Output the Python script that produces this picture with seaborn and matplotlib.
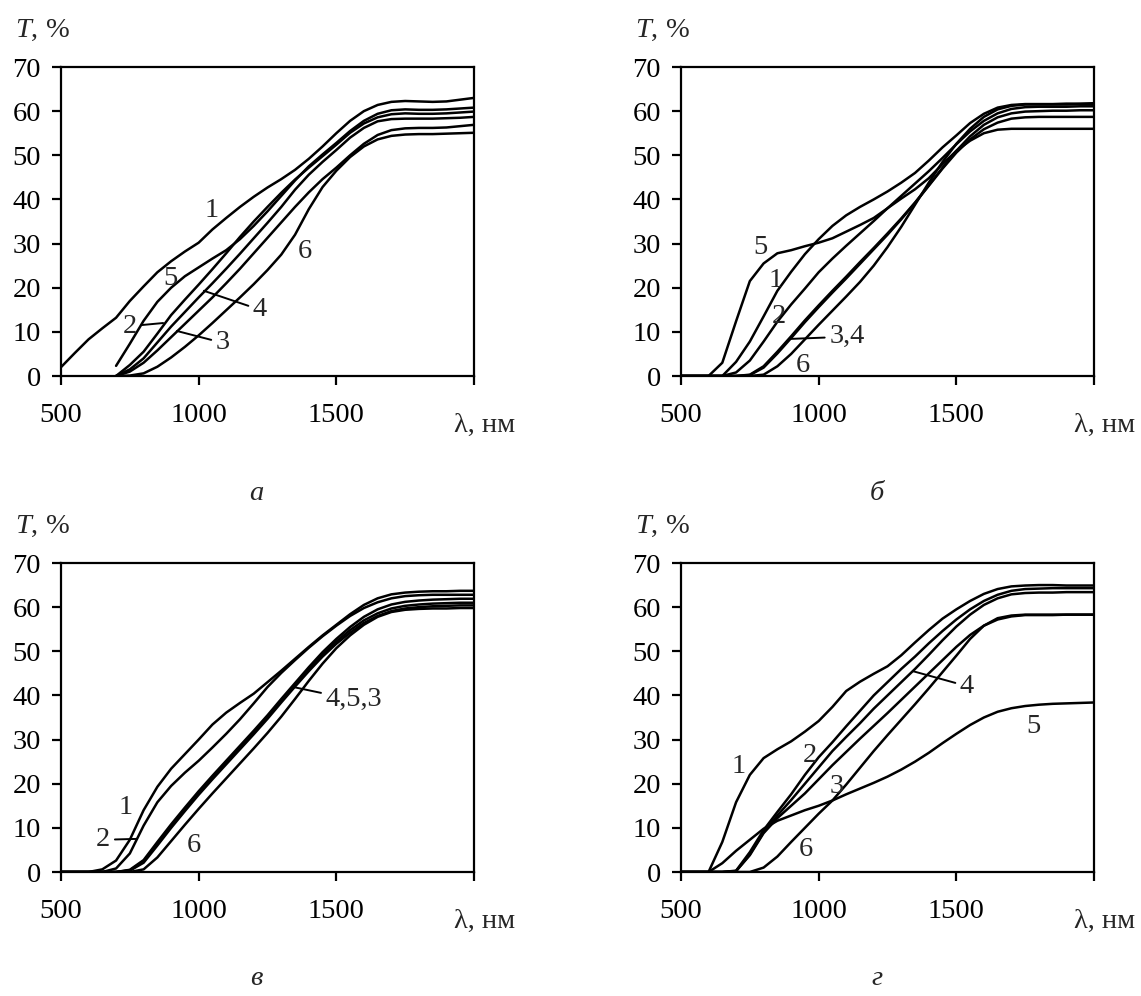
import numpy as np
import pandas as pd
import matplotlib
matplotlib.use("Agg")
import matplotlib.pyplot as plt
import seaborn as sns

N = np.nan

# ---------------- data ----------------
WAVELENGTH = [500, 550, 600, 650, 700, 750, 800, 850, 900, 950, 1000,
              1050, 1100, 1150, 1200, 1250, 1300, 1350, 1400, 1450, 1500,
              1550, 1600, 1650, 1700, 1750, 1800, 1850, 1900, 1950, 2000]

# panel а
A1 = [2, 5.2, 8.3, 10.8, 13.2, 17, 20.3, 23.5, 26, 28.2, 30.2, 33.2, 35.8, 38.3, 40.6, 42.7,
      44.6, 46.7, 49.2, 52, 55, 57.8, 60, 61.4, 62.1, 62.3, 62.2, 62.1, 62.2, 62.6, 63]
A2 = [N, N, N, N, 0, 2.5, 5.5, 9.6, 13.8, 17.3, 20.7, 24.2, 27.8, 31.5, 35, 38.3, 41.5, 44.5,
      47.2, 49.8, 52.4, 55.1, 57.2, 58.6, 59.3, 59.5, 59.4, 59.4, 59.5, 59.7, 59.9]
A3 = [N, N, N, N, 0, 1, 3, 5.8, 8.8, 11.8, 14.8, 17.8, 21, 24.3, 27.8, 31.3, 34.8, 38.3, 41.6,
      44.6, 47.2, 50, 52.6, 54.6, 55.7, 56.1, 56.2, 56.2, 56.3, 56.6, 56.9]
A4 = [N, N, N, N, 0, 1.5, 4, 7.6, 11.2, 14.5, 17.8, 21, 24.3, 27.7, 31.2, 34.7, 38.3, 42.2,
      45.6, 48.5, 51.2, 54, 56.2, 57.7, 58.2, 58.3, 58.3, 58.3, 58.4, 58.5, 58.7]
A5 = [N, N, N, N, 2.3, 7.3, 12.5, 16.8, 20, 22.6, 24.6, 26.6, 28.5, 31, 34, 37.3, 40.8, 44.3,
      47.5, 50.2, 52.8, 55.5, 57.8, 59.4, 60.2, 60.4, 60.3, 60.3, 60.4, 60.6, 60.8]
A6 = [N, N, N, N, 0, 0.1, 0.6, 2.1, 4.2, 6.6, 9.2, 12, 14.9, 17.8, 20.8, 24, 27.5, 32, 37.8,
      42.8, 46.5, 49.6, 52, 53.6, 54.4, 54.7, 54.8, 54.8, 54.9, 55, 55.1]

# panel б
B1 = [0, 0, 0, 0, 3.2, 7.8, 13.5, 19.3, 23.6, 27.6, 31, 34, 36.4, 38.3, 40, 41.8, 43.8, 46,
      48.8, 51.8, 54.5, 57.3, 59.4, 60.8, 61.4, 61.6, 61.6, 61.6, 61.7, 61.7, 61.8]
B2 = [0, 0, 0, 0, 0.8, 3.5, 7.8, 12.3, 16.2, 19.8, 23.5, 26.6, 29.5, 32.3, 35.1, 38, 40.8,
      43.6, 46.4, 49.4, 52.5, 55.4, 57.8, 59.5, 60.5, 60.9, 61, 61, 61, 61.1, 61.1]
B3 = [0, 0, 0, 0, 0, 0.3, 2.2, 5.5, 9, 12.6, 16, 19.3, 22.5, 25.8, 29, 32.3, 35.7, 39.3, 43.2,
      47.2, 51, 54.3, 56.9, 58.6, 59.5, 59.9, 60, 60.1, 60.1, 60.2, 60.2]
B4 = [0, 0, 0, 0, 0, 0.2, 1.9, 5.1, 8.6, 12.2, 15.6, 18.9, 22.1, 25.4, 28.7, 32, 35.5, 39.2,
      43.1, 47, 50.6, 53.6, 55.9, 57.4, 58.3, 58.6, 58.7, 58.7, 58.7, 58.7, 58.7]
B5 = [0, 0, 0, 3, 12.4, 21.5, 25.5, 27.8, 28.5, 29.4, 30.2, 31.2, 32.7, 34.2, 35.8, 38, 40.2,
      42.3, 44.8, 48, 51, 53.3, 55, 55.8, 56, 56, 56, 56, 56, 56, 56]
B6 = [0, 0, 0, 0, 0, 0, 0.3, 2.2, 5, 8.3, 11.6, 14.8, 18, 21.3, 25, 29.2, 33.8, 38.8, 43.8,
      48.5, 52.6, 56, 58.7, 60.4, 61.2, 61.5, 61.5, 61.5, 61.5, 61.6, 61.6]

# panel в
C1 = [0, 0, 0, 0.6, 2.6, 7.3, 14, 19.3, 23.4, 26.7, 30, 33.4, 36.1, 38.3, 40.4, 43, 45.6,
      48.3, 51, 53.6, 56, 58.4, 60.5, 62, 62.9, 63.3, 63.5, 63.6, 63.6, 63.7, 63.7]
C2 = [0, 0, 0, 0, 0.8, 4.2, 10.5, 15.8, 19.5, 22.5, 25.2, 28.2, 31.3, 34.6, 38.2, 41.9, 45.1,
      48, 50.8, 53.4, 55.8, 58, 59.8, 61.1, 62, 62.5, 62.7, 62.8, 62.8, 62.8, 62.8]
C3 = [0, 0, 0, 0, 0, 0.3, 2.1, 6, 10, 13.8, 17.5, 21, 24.4, 27.8, 31.2, 34.7, 38.4, 42, 45.5,
      48.8, 51.7, 54.2, 56.4, 58, 59.1, 59.7, 60, 60.2, 60.3, 60.4, 60.4]
C4 = [0, 0, 0, 0, 0, 0.5, 2.7, 6.8, 10.8, 14.6, 18.3, 21.8, 25.2, 28.6, 32, 35.5, 39.2, 42.8,
      46.4, 49.8, 52.8, 55.5, 57.8, 59.5, 60.6, 61.2, 61.5, 61.7, 61.8, 61.9, 61.9]
C5 = [0, 0, 0, 0, 0, 0.4, 2.4, 6.4, 10.4, 14.2, 17.9, 21.4, 24.8, 28.2, 31.6, 35.1, 38.8,
      42.4, 46, 49.3, 52.2, 54.8, 57, 58.6, 59.7, 60.3, 60.6, 60.8, 60.9, 61, 61]
C6 = [0, 0, 0, 0, 0, 0, 0.6, 3.3, 7, 10.7, 14.3, 17.8, 21.2, 24.6, 28, 31.5, 35.2, 39.2, 43.3,
      47.2, 50.7, 53.6, 56, 57.8, 58.9, 59.4, 59.6, 59.7, 59.7, 59.8, 59.8]

# panel г
D1 = [0, 0, 0, 6.8, 15.8, 22, 25.8, 27.8, 29.6, 31.8, 34.2, 37.4, 41, 43.1, 44.9, 46.6, 49.1,
      52, 54.8, 57.4, 59.5, 61.4, 63, 64.1, 64.7, 64.9, 65, 65, 64.9, 64.9, 64.9]
D2 = [0, 0, 0, 0, 0.3, 4.5, 9.5, 13.6, 17.6, 22, 26, 29.4, 33, 36.5, 40, 43, 46, 48.8, 51.8,
      54.6, 57.2, 59.5, 61.4, 62.8, 63.7, 64.1, 64.2, 64.3, 64.3, 64.3, 64.3]
D3 = [0, 0, 0, 0, 0.2, 3.8, 8.8, 12.2, 15, 17.8, 21, 24.2, 27.2, 30.2, 33.1, 36, 39, 42, 45,
      48, 51, 53.7, 55.8, 57.2, 57.9, 58.2, 58.2, 58.2, 58.3, 58.3, 58.3]
D4 = [0, 0, 0, 0, 0.2, 4, 9, 12.8, 16.3, 20, 23.7, 27.4, 30.6, 33.7, 37, 40, 43, 46, 49.2,
      52.5, 55.6, 58.3, 60.5, 62, 62.9, 63.2, 63.3, 63.3, 63.4, 63.4, 63.4]
D5 = [0, 0, 0, 2, 4.8, 7.3, 9.8, 11.6, 12.8, 14, 15, 16.2, 17.6, 18.9, 20.2, 21.6, 23.2, 25,
      27, 29.2, 31.3, 33.3, 35, 36.3, 37.1, 37.6, 37.9, 38.1, 38.2, 38.3, 38.4]
D6 = [0, 0, 0, 0, 0, 0, 1, 3.5, 6.8, 10, 13.2, 16.2, 19.8, 23.6, 27.4, 31, 34.5, 38, 41.6,
      45.3, 49, 52.8, 55.8, 57.5, 58.1, 58.3, 58.3, 58.3, 58.3, 58.3, 58.3]

CURVE_NAMES = ["1", "2", "3", "4", "5", "6"]

# curve labels: (text, x, y, leader end or None)
A_LABELS = [("1", 1048, 37.6, None), ("5", 898, 22.2, None), ("2", 751, 11.3, (871, 12.0)),
            ("3", 1088, 7.5, (921, 10.2)), ("4", 1223, 15.0, (1019, 19.3)), ("6", 1386, 28.1, None)]
B_LABELS = [("5", 787, 29.2, None), ("1", 845, 21.7, None), ("2", 857, 13.4, None),
            ("3,4", 1103, 8.9, (896, 8.4)), ("6", 944, 2.3, None)]
C_LABELS = [("1", 735, 14.5, None), ("2", 653, 7.3, (775, 7.5)), ("6", 981, 6.0, None),
            ("4,5,3", 1564, 39.0, (1344, 41.9))]
D_LABELS = [("1", 708, 23.9, None), ("2", 969, 26.5, None), ("3", 1066, 19.3, None),
            ("6", 954, 5.0, None), ("5", 1781, 33.0, None), ("4", 1539, 42.1, (1342, 45.5))]

X_TICKS = [500, 1000, 1500, 2000]
X_TICK_LABELS = ["500", "1000", "1500", ""]
Y_TICKS = [0, 10, 20, 30, 40, 50, 60, 70]
Y_LABEL = "$T$, %"
X_LABEL = "λ, нм"

# ---------------- style ----------------
sns.set_style("ticks")
plt.rcParams["font.family"] = ["Liberation Serif", "DejaVu Serif"]
plt.rcParams["mathtext.fontset"] = "custom"
plt.rcParams["mathtext.rm"] = "Liberation Serif"
plt.rcParams["mathtext.it"] = "Liberation Serif:italic"

W, H = 1141, 996
FS = 20.5
fig = plt.figure(figsize=(W / 100, H / 100), dpi=100)


def add_axes(left, top, right, bottom):
    return fig.add_axes([left / W, 1 - bottom / H, (right - left) / W, (bottom - top) / H])


panels = [
    ([A1, A2, A3, A4, A5, A6], A_LABELS, (61, 67, 474, 376), "а"),
    ([B1, B2, B3, B4, B5, B6], B_LABELS, (681, 67, 1094, 376), "б"),
    ([C1, C2, C3, C4, C5, C6], C_LABELS, (61, 563, 474, 872), "в"),
    ([D1, D2, D3, D4, D5, D6], D_LABELS, (681, 563, 1094, 872), "г"),
]

for curves, labels, (l, t, r, b), cap in panels:
    ax = add_axes(l, t, r, b)
    rows = []
    for name, vals in zip(CURVE_NAMES, curves):
        for wl, v in zip(WAVELENGTH, vals):
            if not np.isnan(v):
                rows.append({"wl": wl, "T": v, "curve": name})
    df = pd.DataFrame(rows)
    sns.lineplot(data=df, x="wl", y="T", units="curve", estimator=None,
                 color="black", linewidth=1.8, ax=ax, legend=False)
    ax.set_xlim(500, 2000)
    ax.set_ylim(0, 70)
    ax.set_xticks(X_TICKS)
    ax.set_xticklabels(X_TICK_LABELS)
    ax.set_yticks(Y_TICKS)
    ax.set_xlabel("")
    ax.set_ylabel("")
    ax.tick_params(direction="out", length=6.5, width=1.6, labelsize=FS, colors="black")
    ax.tick_params(axis="x", pad=13)
    ax.tick_params(axis="y", pad=8)
    for sp in ax.spines.values():
        sp.set_visible(True)
        sp.set_linewidth(1.6)
        sp.set_color("black")

    for txt, x, y, end in labels:
        if end is None:
            ax.text(x, y, txt, ha="center", va="center", fontsize=FS)
        else:
            ax.annotate(txt, xy=end, xytext=(x, y), ha="center", va="center", fontsize=FS,
                        arrowprops=dict(arrowstyle="-", lw=1.4, color="black",
                                        shrinkA=1, shrinkB=0))

    fig.text((l - 46) / W, 1 - (t - 37) / H, Y_LABEL, ha="left", va="center", fontsize=FS)
    fig.text((r - 20) / W, 1 - (b + 49) / H, X_LABEL, ha="left", va="center", fontsize=FS)
    cap_y = b + 117 if b < 500 else b + 106
    fig.text(((l + r) / 2 - 11) / W, 1 - cap_y / H, cap, ha="center", va="center",
             fontsize=FS, style="italic")

fig.savefig("out.png", dpi=100, facecolor="white")
